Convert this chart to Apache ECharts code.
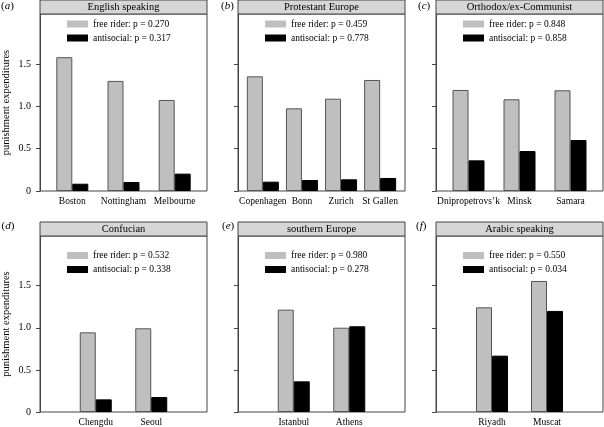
<!DOCTYPE html>
<html>
<head>
<meta charset="utf-8">
<script src="https://cdn.jsdelivr.net/npm/echarts@6/dist/echarts.min.js"></script>
<style>html,body{margin:0;padding:0;background:#fff}#c{width:604px;height:427px}</style>
</head>
<body>
<div id="c"></div>
<script>
// ---- data ----
const panelLetters = ['a', 'b', 'c', 'd', 'e', 'f'];
const panelTitles = ['English speaking', 'Protestant Europe', 'Orthodox/ex-Communist', 'Confucian', 'southern Europe', 'Arabic speaking'];
const citiesA = ['Boston', 'Nottingham', 'Melbourne'];
const freeRiderA = [1.58, 1.30, 1.075];
const antisocialA = [0.086, 0.106, 0.205];
const citiesB = ['Copenhagen', 'Bonn', 'Zurich', 'St Gallen'];
const freeRiderB = [1.354, 0.976, 1.09, 1.311];
const antisocialB = [0.11, 0.13, 0.138, 0.154];
const citiesC = ['Dnipropetrovs\u2019k', 'Minsk', 'Samara'];
const freeRiderC = [1.193, 1.083, 1.189];
const antisocialC = [0.362, 0.472, 0.602];
const citiesD = ['Chengdu', 'Seoul'];
const freeRiderD = [0.946, 0.994];
const antisocialD = [0.15, 0.178];
const citiesE = ['Istanbul', 'Athens'];
const freeRiderE = [1.215, 1.001];
const antisocialE = [0.364, 1.018];
const citiesF = ['Riyadh', 'Muscat'];
const freeRiderF = [1.243, 1.556];
const antisocialF = [0.669, 1.2];
const pFree = ['0.270', '0.459', '0.848', '0.532', '0.980', '0.550'];
const pAnti = ['0.317', '0.778', '0.858', '0.338', '0.278', '0.034'];
const yTicks = [0, 0.5, 1.0, 1.5];
const yMax = 2.09;
const yName = 'punishment expenditures';

// ---- layout ----
const cities = [citiesA, citiesB, citiesC, citiesD, citiesE, citiesF];
const free = [freeRiderA, freeRiderB, freeRiderC, freeRiderD, freeRiderE, freeRiderF];
const anti = [antisocialA, antisocialB, antisocialC, antisocialD, antisocialE, antisocialF];
const colLeft = [40, 238, 436];
const W = 167;
const rows = [
  {headerTop: 0, top: 14, height: 177, legendTop: 18, letterTop: 1},
  {headerTop: 222, top: 236, height: 176, legendTop: 249.5, letterTop: 221}
];
const insets = [6.7, 5.3, 7, 28, 28, 28.5];
const letterLeft = [1, 221, 418, 1.5, 222, 416];
const FONT = '"Liberation Serif", "Times New Roman", serif';
const FRAME = '#444';

const grid = [], xAxis = [], yAxis = [], series = [], legend = [], title = [], graphic = [];
for (let i = 0; i < 6; i++) {
  const row = rows[Math.floor(i / 3)];
  const L = colLeft[i % 3];
  const showLab = (i % 3 === 0);
  // frame grid
  grid.push({left: L, top: row.top, width: W, height: row.height, show: true,
    borderColor: FRAME, borderWidth: 1, backgroundColor: '#fff'});
  xAxis.push({gridIndex: 2 * i, type: 'value', show: false, min: 0, max: 1});
  yAxis.push({gridIndex: 2 * i, type: 'value', min: 0, max: yMax, interval: 0.5,
    splitLine: {show: false},
    axisLine: {show: true, lineStyle: {color: FRAME, width: 1}},
    axisTick: {show: true, inside: false, length: 4, customValues: yTicks, lineStyle: {color: FRAME}},
    axisLabel: {show: showLab, customValues: yTicks, margin: 9, color: '#000', fontFamily: FONT, fontSize: 10,
      formatter: v => v === 0 ? '0' : v.toFixed(1)},
    name: showLab ? yName : '', nameLocation: 'middle', nameGap: 28, nameRotate: 90,
    nameTextStyle: {fontFamily: FONT, fontSize: 10.5, color: '#000'}
  });
  // inset grid for bars
  const ins = insets[i];
  grid.push({left: L + ins, top: row.top, width: W - 2 * ins, height: row.height});
  xAxis.push({gridIndex: 2 * i + 1, type: 'category', data: cities[i],
    axisLine: {show: false}, axisTick: {show: false},
    axisLabel: {margin: 5, color: '#000', fontFamily: FONT, fontSize: 9.5, interval: 0}});
  yAxis.push({gridIndex: 2 * i + 1, type: 'value', show: false, min: 0, max: yMax, splitLine: {show: false}});
  const nf = 'free rider: p = ' + pFree[i];
  const na = 'antisocial: p = ' + pAnti[i];
  series.push({type: 'bar', name: nf, xAxisIndex: 2 * i + 1, yAxisIndex: 2 * i + 1, data: free[i],
    barWidth: 16, barGap: '0%', itemStyle: {color: '#bfbfbf', borderColor: '#555', borderWidth: 1}, silent: true});
  series.push({type: 'bar', name: na, xAxisIndex: 2 * i + 1, yAxisIndex: 2 * i + 1, data: anti[i],
    barWidth: 16, barGap: '0%', itemStyle: {color: '#000', borderColor: '#000', borderWidth: 1}, silent: true});
  legend.push({orient: 'vertical', left: L + 27, top: row.legendTop, padding: 0,
    itemWidth: 21, itemHeight: 7, itemGap: 2, icon: 'rect', selectedMode: false,
    itemStyle: {borderWidth: 0},
    textStyle: {fontFamily: FONT, fontSize: 9.5, lineHeight: 12, color: '#000'},
    data: [nf, na]});
  title.push({text: '({i|' + panelLetters[i] + '})', left: letterLeft[i], top: row.letterTop, padding: 0,
    textStyle: {fontFamily: FONT, fontSize: 11, fontWeight: 'normal', color: '#000',
      rich: {i: {fontFamily: FONT, fontSize: 11, fontStyle: 'italic', color: '#000'}}}});
  graphic.push({type: 'rect', shape: {x: L, y: row.headerTop, width: W, height: row.top - row.headerTop},
    style: {fill: '#d6d6d6', stroke: FRAME, lineWidth: 1}, z: 10});
  graphic.push({type: 'text', x: L + W / 2, y: row.headerTop + (row.top - row.headerTop) / 2,
    style: {text: panelTitles[i], font: '10.5px ' + FONT, fill: '#000', align: 'center', verticalAlign: 'middle'}, z: 11});
}

const chart = echarts.init(document.getElementById('c'), null, {renderer: 'canvas'});
chart.setOption({animation: false, backgroundColor: '#fff', grid, xAxis, yAxis, series, legend, title, graphic});
</script>
</body>
</html>
